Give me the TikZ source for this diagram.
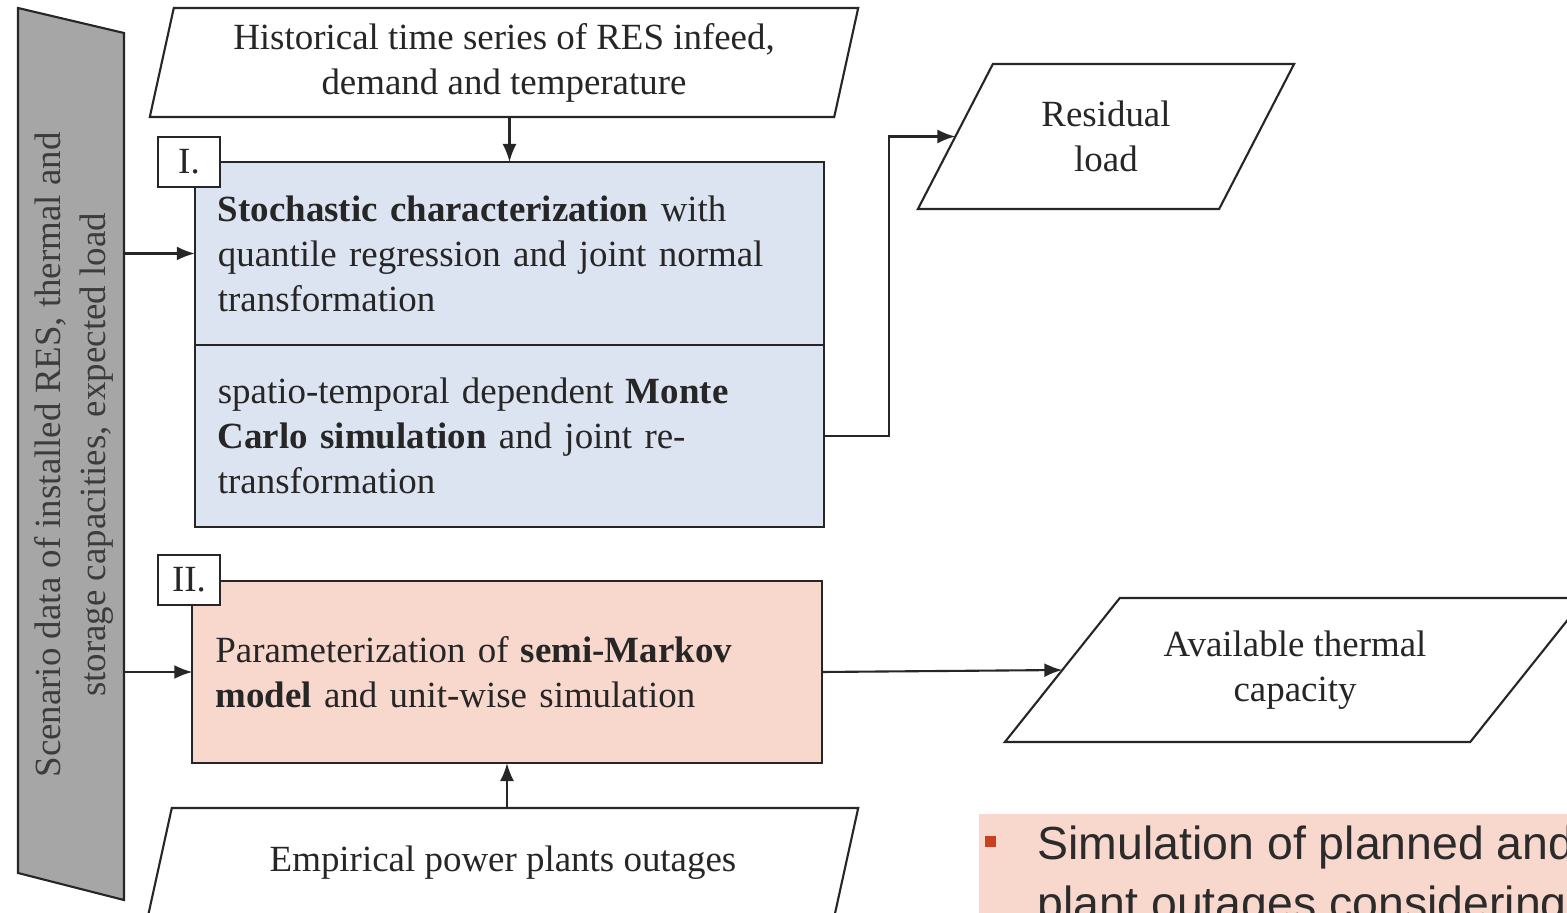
\documentclass[tikz,border=0pt]{standalone}
\usepackage{fontspec}
\setmainfont{Liberation Serif}
\newfontfamily\noteFamily{Liberation Sans}
\usetikzlibrary{positioning,calc,arrows.meta}
\definecolor{flowLine}{HTML}{262626}
\definecolor{flowBlueFill}{HTML}{DCE3F1}
\definecolor{flowPinkFill}{HTML}{F8D7CD}
\definecolor{flowGreyFill}{HTML}{A6A6A6}
\definecolor{flowBullet}{HTML}{C8401E}
\definecolor{flowNoteText}{HTML}{2B2B2B}
\newcommand\flowFont{\fontsize{10.5}{12.8}\selectfont}
\newcommand\noteFont{\noteFamily\fontsize{13.2}{17.2}\selectfont}

% slanted in/out box round a text node: #1 node name, #2 slant in px
\newcommand\ioOutline[2]{%
  \draw[flowLine, line width=0.6pt]
    (#1.south west) -- ($(#1.north west)+(#2,0)$) -- (#1.north east)
    -- ($(#1.south east)-(#2,0)$) -- cycle;
  \coordinate (#1-in) at ($(#1.west)+(#2/2,0)$);
}

\tikzset{
  flowarrow/.style={-{Latex[length=1.8mm,width=1.4mm]}, draw=flowLine, line width=0.6pt},
  procbox/.style={rectangle, draw=flowLine, line width=0.6pt, inner xsep=0.23cm,
    inner ysep=0pt, outer sep=0pt, text width=5.83cm, align=left,
    font=\flowFont, text=flowLine},
  iobox/.style={rectangle, inner sep=0pt, outer sep=0pt, align=center,
    font=\flowFont, text=flowLine},
  tagbox/.style={rectangle, draw=flowLine, fill=white, line width=0.6pt,
    minimum width=0.62cm, minimum height=0.50cm, inner sep=0pt, outer sep=0pt,
    font=\flowFont, text=flowLine}
}

\begin{document}
\begin{tikzpicture}[x=0.01cm, y=-0.01cm]

% --- CANVAS (pixel grid of the slide) ---
\useasboundingbox (0,0) rectangle (1567,913);
\clip (0,0) rectangle (1567,913);

% --- SCENARIO BAR (left) ---
\draw[flowLine, fill=flowGreyFill, line width=0.6pt]
  (18,8) -- (124,33) -- (124,900) -- (18,873) -- cycle;
\node[rotate=90, align=center, font=\flowFont, text=flowLine!90]
  (scen) at (74,455)
  {Scenario data of installed RES, thermal and\\
   storage capacities, expected load};
\coordinate (barR) at (124,455);

% --- INPUTS ---
\node[iobox, minimum width=7.08cm, minimum height=1.09cm]
  (hist) at (504,62.5)
  {Historical time series of RES infeed,\\ demand and temperature};
\ioOutline{hist}{24}
\node[iobox, minimum width=7.10cm, minimum height=1.09cm]
  (outage) at (503,862.5)
  {Empirical power plants outages};
\ioOutline{outage}{24}

% --- STEP I ---
\node[procbox, fill=flowBlueFill, minimum height=1.83cm]
  (stoch) at (509.5,253.5)
  {\textbf{Stochastic characterization} with quantile regression and joint normal transformation};
\node[procbox, fill=flowBlueFill, minimum height=1.82cm]
  (mc) at (509.5,436)
  {spatio-temporal dependent \textbf{Monte Carlo simulation} and joint re-\\transformation};
\node[tagbox] (tagI) at (189,162) {I.};

% --- STEP II ---
\node[procbox, fill=flowPinkFill, minimum height=1.82cm]
  (markov) at (507,672)
  {Parameterization of \textbf{semi-Markov model} and unit-wise simulation};
\node[tagbox] (tagII) at (189,580) {II.};

% --- OUTPUTS ---
\node[iobox, minimum width=3.76cm, minimum height=1.45cm]
  (resid) at (1106,136.5)
  {Residual\\ load};
\ioOutline{resid}{75}
\node[iobox, minimum width=5.80cm, minimum height=1.44cm]
  (avail) at (1295,670)
  {Available thermal\\ capacity};
\ioOutline{avail}{115}

% --- CONNECTORS ---
\draw[flowarrow] (stoch.north |- hist.south) -- (stoch.north);
\draw[flowarrow] (markov.south |- outage.north) -- (markov.south);
\draw[flowarrow] (stoch.west -| barR) -- (stoch.west);
\draw[flowarrow] (markov.west -| barR) -- (markov.west);
\draw[flowarrow] (mc.east) -- ++(65,0) |- (resid-in);
\draw[flowarrow] (markov.east) -- (avail-in);

% --- NOTE (bottom right) ---
\node[fill=flowPinkFill, anchor=north west, minimum width=6.5cm,
  minimum height=1.5cm, inner sep=0pt] (noteBg) at (978,813) {};
\node[fill=flowBullet, minimum size=0.11cm, inner sep=0pt]
  (noteBullet) at (990.5,841.5) {};
\node[anchor=north west, align=left, inner sep=0pt, font=\noteFont,
  text=flowNoteText] (noteText) at (1037,825)
  {Simulation of planned and\\ plant outages considering};

\end{tikzpicture}
\end{document}
